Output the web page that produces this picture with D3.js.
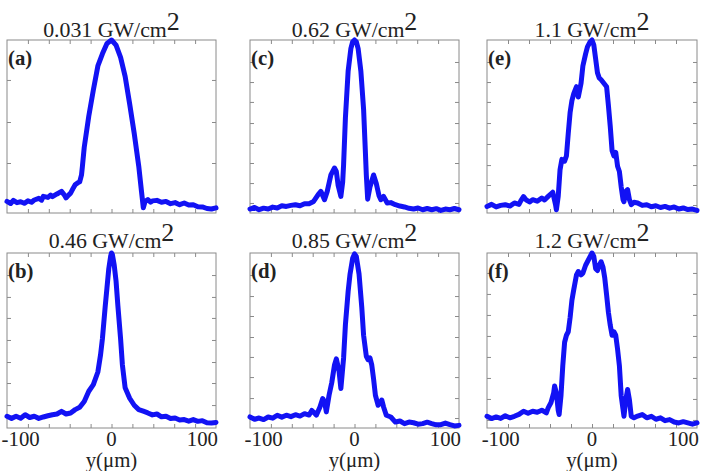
<!DOCTYPE html>
<html>
<head>
<meta charset="utf-8">
<script src="https://cdn.jsdelivr.net/npm/d3@7"></script>
<style>
  body { margin: 0; background: #fff; }
</style>
</head>
<body>
<div id="fig"></div>
<script>
// transverse position domain (um) and ticks
var xDomain = [-115, 115];
var xTickMarks = [-92, -69, -46, -23, 0, 23, 46, 69, 92];
var xLabels = [-100, 0, 100];

var intensities = ["0.031", "0.46", "0.62", "0.85", "1.1", "1.2"];
var letters = ["(a)", "(b)", "(c)", "(d)", "(e)", "(f)"];

// y tick marks per panel (percent of peak)
var yTicksA = [28.9, 52.6, 76.9];
var yTicksB = [13.1, 25.7, 37.7, 50.3, 62.9, 74.9, 87.4];
var yTicksC = [5.8, 17.3, 28.9, 40.5, 52.0, 64.2, 75.7, 87.3];
var yTicksD = [5.7, 17.1, 29.1, 40.6, 52.0, 64.0, 75.4, 87.4];
var yTicksE = [4.6, 16.2, 27.7, 39.9, 52.0, 64.2, 75.7, 87.3];
var yTicksF = [4.6, 16.6, 28.6, 40.6, 52.6, 64.6, 76.6, 88.6];

// measured profiles [y (um), normalized intensity %]
var profA = [[-115,6.7],[-111,5.5],[-108,7.3],[-104,6.0],[-100,6.5],[-96,5.6],[-92,7.0],[-88,6.2],[-85,7.5],[-80,8.5],[-77,7.4],[-75,9.6],[-70,9.0],[-67,10.4],[-65,9.4],[-60,11.0],[-55,12.5],[-52,10.5],[-50,8.7],[-47,10.5],[-45,11.5],[-42,14.5],[-40,16.3],[-37,17.5],[-35,18],[-33,22],[-32,27],[-30,38],[-25,56],[-20,71],[-15,85],[-10,92],[-5,98],[0,100],[5,97],[10,90],[15,79],[20,63],[25,46],[30,27],[33,12.5],[35,3],[37,6.7],[40,7.7],[43,6.3],[45,7.0],[50,7.3],[55,6.2],[60,6.7],[65,5.4],[70,6.0],[75,4.8],[80,5.8],[85,4.6],[90,4.8],[95,3.6],[100,3.5],[105,2.6],[110,2.3],[115,3.0]];
var profB = [[-115,6.7],[-110,5.5],[-105,6.7],[-100,5.6],[-95,7.6],[-90,6.0],[-85,6.7],[-80,5.5],[-75,6.3],[-70,7.0],[-65,7.6],[-60,8.0],[-55,9.5],[-50,8.0],[-45,8.6],[-40,10.5],[-35,11.8],[-30,15.2],[-25,21],[-20,24.8],[-15,32],[-12,42],[-10,51],[-7,69],[-5,80],[-3,91],[-1,98],[0,100],[1,99],[3,93],[5,84],[7,70],[10,51],[12,36],[15,23],[20,17],[25,13],[30,10.5],[35,9.6],[40,8.6],[45,7.5],[50,8],[55,6.4],[60,6.7],[65,5.4],[70,5.7],[75,4.6],[80,4.8],[85,3.9],[90,4.8],[95,3.8],[100,4.2],[105,3.0],[110,2.9],[115,3.2]];
var profC = [[-115,2.3],[-110,3.2],[-105,1.9],[-100,2.8],[-95,2.3],[-90,3.4],[-85,2.9],[-80,4.2],[-75,3.8],[-70,4.4],[-65,4.8],[-60,4.2],[-55,5.4],[-50,5.4],[-45,6.7],[-40,10.6],[-37,12.5],[-33,7.7],[-30,12.5],[-26,22],[-22,26],[-20,24],[-18,16],[-15,9.6],[-13,18],[-12,28],[-10,55],[-7,82],[-4,95],[-2,99],[0,100],[2,99],[4,95],[7,82],[10,60],[12,35],[13,22],[14.5,8],[17,15],[21,22],[24,17],[27,10],[29,7.7],[32,9.6],[36,5.8],[40,6.0],[45,4.8],[50,4.0],[55,3.5],[60,2.7],[65,2.3],[70,2.9],[75,1.9],[80,2.6],[85,1.9],[90,2.5],[95,1.5],[100,2.3],[105,1.9],[110,2.6],[115,1.9]];
var profD = [[-115,6.3],[-110,5.0],[-105,5.7],[-100,4.8],[-95,6.3],[-90,5.6],[-85,7.3],[-80,6.2],[-75,7.3],[-70,6.5],[-65,7.6],[-60,6.8],[-55,8.2],[-50,7.4],[-47,10],[-44,8.5],[-42,7.3],[-38,12],[-35,16.8],[-33,15],[-31,9.2],[-28,18.7],[-25,26],[-22,36],[-20,39.5],[-17,32.5],[-15,22.6],[-12,40],[-10,59],[-7,78],[-5,87.6],[-2,97],[0,99.5],[2,98],[5,88],[8,69],[10,53],[13,41],[15,39],[17,40],[19,36],[21,28],[23,18.7],[26,13],[29,15],[30,16],[32,12],[35,7.3],[40,6.3],[45,3.4],[50,4.0],[55,2.5],[60,3.4],[65,3.0],[70,2.2],[75,2.5],[80,3.3],[85,2.5],[90,1.8],[95,1.9],[100,2.8],[105,1.9],[110,1.2],[115,1.5]];
var profE = [[-115,3.8],[-110,5.0],[-105,3.5],[-100,4.4],[-95,4.8],[-90,4.0],[-85,5.8],[-80,5.0],[-78,7],[-75,9.5],[-72,7.5],[-68,6.4],[-65,7.7],[-60,6.8],[-55,8.7],[-52,7.5],[-48,9.6],[-43,12],[-40,5],[-39,1.9],[-37,9.6],[-35,25],[-33,31],[-30,30],[-28,33],[-26,46],[-24,58],[-22,65],[-20,69],[-17,73],[-15,67],[-12,75],[-10,85],[-7,92],[-5,96],[-2,99],[0,100],[2,97],[4,89],[6,81],[8,78],[10,77],[13,75],[16,73],[18,62],[20,50],[22,36],[24,33],[26,35],[28,27],[30,24],[32,15],[34,7.7],[35,6.5],[37,12.5],[39,13.5],[41,7.7],[43,4.8],[46,6.2],[50,5.8],[55,4.4],[60,4.8],[65,3.6],[70,4.2],[75,3.2],[80,3.8],[85,2.8],[90,3.5],[95,2.3],[100,2.9],[105,2.0],[110,2.3],[115,1.5]];
var profF = [[-115,6.7],[-110,5.4],[-105,6.3],[-100,5.5],[-95,7.0],[-90,5.8],[-85,6.7],[-80,7.8],[-75,9.6],[-70,8.4],[-65,9.6],[-60,9.0],[-55,10.2],[-50,8.6],[-48,11.5],[-45,14.4],[-42,20],[-41,24],[-39,20],[-37,10],[-36,7.7],[-34,18.3],[-32,35.6],[-30,49],[-28,53],[-26,55],[-24,63],[-22,73],[-20,79],[-17,87.5],[-15,89.4],[-12,87.5],[-10,88.5],[-7,93],[-5,95],[-2,98],[0,100],[2,98],[4,91],[6,90],[8,93],[10,95],[12,92],[14,85.6],[16,76],[18,66],[20,58.7],[22,53],[24,55],[26,53],[28,45],[30,35.6],[32,18.3],[34,10.6],[35,6.7],[37,16],[39,22],[41,16],[43,6.7],[46,5.8],[50,6.8],[55,7.7],[60,5.8],[65,6.7],[70,5.0],[75,5.8],[80,4.2],[85,4.8],[90,3.4],[95,2.9],[100,3.6],[105,2.9],[110,2.2],[115,2.9]];

var width = 706, height = 471;
var cols = [[7, 216], [250, 459], [487, 697]];
var rows = [[40, 213], [253, 428]];

var panels = [
  {col: 0, row: 0, k: 0, data: profA, yt: yTicksA},
  {col: 0, row: 1, k: 1, data: profB, yt: yTicksB},
  {col: 1, row: 0, k: 2, data: profC, yt: yTicksC},
  {col: 1, row: 1, k: 3, data: profD, yt: yTicksD},
  {col: 2, row: 0, k: 4, data: profE, yt: yTicksE},
  {col: 2, row: 1, k: 5, data: profF, yt: yTicksF}
];

var serif = "'Liberation Serif', 'Times New Roman', Tinos, 'DejaVu Serif', 'Noto Serif', serif";

var svg = d3.select("#fig").append("svg")
    .attr("width", width)
    .attr("height", height)
    .attr("viewBox", [0, 0, width, height].join(" "));

var sx = 1.04;

function addText(g, x, y, size) {
  return g.append("text")
    .attr("transform", "translate(" + x + "," + y + ") scale(" + sx + ",1)")
    .attr("font-family", serif)
    .attr("fill", "#222")
    .attr("font-size", size);
}

panels.forEach(function(p) {
  var x0 = cols[p.col][0], x1 = cols[p.col][1];
  var y0 = rows[p.row][0], y1 = rows[p.row][1];

  var x = d3.scaleLinear().domain(xDomain).range([x0, x1]);
  var y = d3.scaleLinear().domain([0, 100]).range([y1, y0]);

  var g = svg.append("g").attr("class", "panel");

  // ticks pointing inward on all four sides
  function tidy(sel) {
    sel.select(".domain").remove();
    sel.selectAll("line").attr("stroke", "#8a8a8a");
  }
  g.append("g").attr("transform", "translate(0," + y1 + ")")
    .call(d3.axisTop(x).tickValues(xTickMarks).tickSize(4).tickFormat(""))
    .call(tidy);
  g.append("g").attr("transform", "translate(0," + y0 + ")")
    .call(d3.axisBottom(x).tickValues(xTickMarks).tickSize(4).tickFormat(""))
    .call(tidy);
  g.append("g").attr("transform", "translate(" + x0 + ",0)")
    .call(d3.axisRight(y).tickValues(p.yt).tickSize(4).tickFormat(""))
    .call(tidy);
  g.append("g").attr("transform", "translate(" + x1 + ",0)")
    .call(d3.axisLeft(y).tickValues(p.yt).tickSize(4).tickFormat(""))
    .call(tidy);

  g.append("rect")
    .attr("x", x0).attr("y", y0)
    .attr("width", x1 - x0).attr("height", y1 - y0)
    .attr("fill", "none")
    .attr("stroke", "#8a8a8a")
    .attr("stroke-width", 1);

  var line = d3.line()
    .x(function(d) { return x(d[0]); })
    .y(function(d) { return y(d[1]); });

  g.append("path")
    .datum(p.data)
    .attr("d", line)
    .attr("fill", "none")
    .attr("stroke", "#1212f4")
    .attr("stroke-width", 5)
    .attr("stroke-linejoin", "round")
    .attr("stroke-linecap", "round");

  // title above the panel
  var t = addText(g, (x0 + x1) / 2, y0 - (p.row === 0 ? 3 : 5), 21)
    .attr("text-anchor", "middle");
  t.append("tspan").text(intensities[p.k] + " GW/cm");
  t.append("tspan").attr("font-size", 25).attr("dy", -7).text("2");

  // panel letter
  addText(g, x0 + 1, y0 + 25, 20)
    .attr("font-weight", "bold")
    .text(letters[p.k]);

  // x labels on the bottom row only
  if (p.row === 1) {
    xLabels.forEach(function(v) {
      addText(g, x(v), y1 + 18, 20)
        .attr("text-anchor", "middle")
        .text(String(v));
    });
    addText(g, x(0), y1 + 39, 20)
      .attr("text-anchor", "middle")
      .text("y(\u03bcm)");
  }
});
</script>
</body>
</html>
